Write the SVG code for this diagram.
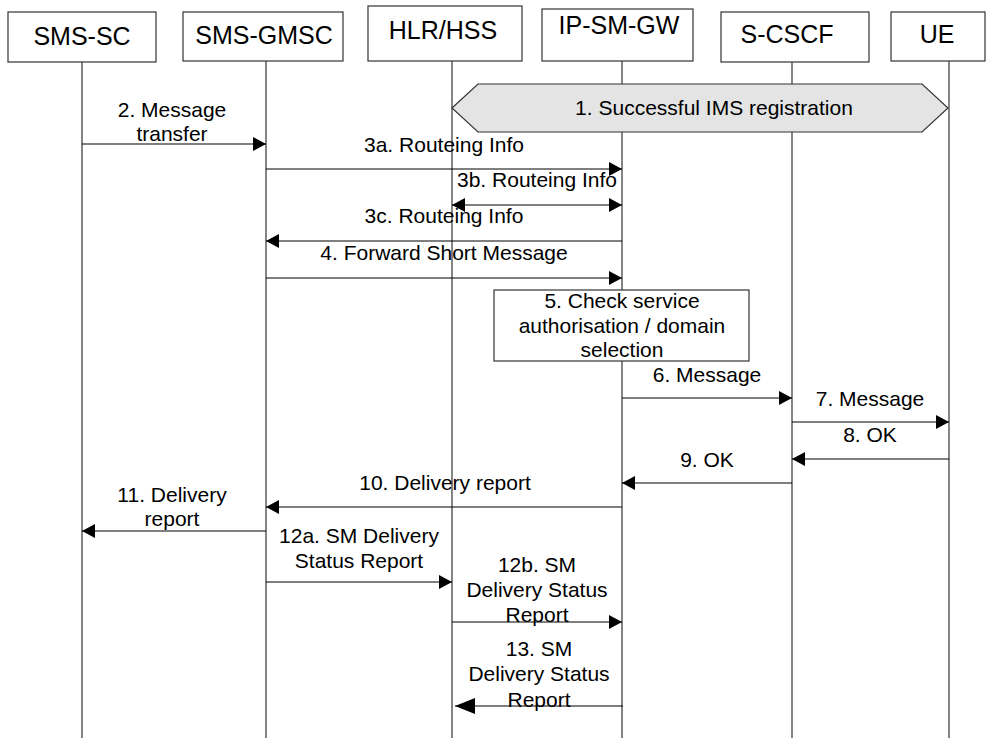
<svg xmlns="http://www.w3.org/2000/svg" width="994" height="738" viewBox="0 0 994 738">
<defs>
<marker id="ah" markerWidth="14" markerHeight="14" refX="13" refY="7" orient="auto-start-reverse" markerUnits="userSpaceOnUse">
<path d="M0,0 L13,7 L0,14 z" fill="#000"/>
</marker>
<marker id="ahb" markerWidth="22" markerHeight="16" refX="20" refY="8" orient="auto" markerUnits="userSpaceOnUse">
<path d="M0,0 L20,8 L0,16 z" fill="#000"/>
</marker>
<style>
.box{fill:#fff;stroke:#333;stroke-width:1.2}
.life{stroke:#333;stroke-width:1.2;fill:none}
.msg{stroke:#000;stroke-width:1.2;fill:none;marker-end:url(#ah)}
.hd{font-family:"Liberation Sans",Arial,sans-serif;font-size:25px;fill:#000;text-anchor:middle}
.lb{font-family:"Liberation Sans",Arial,sans-serif;font-size:21px;fill:#000;text-anchor:middle}
</style>
</defs>
<rect width="994" height="738" fill="#fff"/>
<g id="lifelines">
<line class="life" x1="82" y1="62" x2="82" y2="738"/>
<line class="life" x1="266" y1="61" x2="266" y2="738"/>
<line class="life" x1="452" y1="61" x2="452" y2="738"/>
<line class="life" x1="622" y1="61" x2="622" y2="738"/>
<line class="life" x1="792" y1="62" x2="792" y2="738"/>
<line class="life" x1="949" y1="61" x2="949" y2="738"/>
</g>
<g id="SMS-SC"><rect class="box" x="8" y="12" width="148" height="50"/><text class="hd" x="82" y="45">SMS-SC</text></g>
<g id="SMS-GMSC"><rect class="box" x="183" y="12" width="160" height="49"/><text class="hd" x="264" y="44">SMS-GMSC</text></g>
<g id="HLR-HSS"><rect class="box" x="368" y="6" width="154" height="55"/><text class="hd" x="443" y="39">HLR/HSS</text></g>
<g id="IP-SM-GW"><rect class="box" x="542" y="9" width="151" height="52"/><text class="hd" x="619" y="34">IP-SM-GW</text></g>
<g id="S-CSCF"><rect class="box" x="721" y="12" width="148" height="50"/><text class="hd" x="787" y="43">S-CSCF</text></g>
<g id="UE"><rect class="box" x="891" y="12" width="94" height="49"/><text class="hd" x="937" y="43">UE</text></g>
<g id="step1">
<polygon points="452,108 478,84 922,84 948,108 922,132 478,132" fill="#e4e4e4" stroke="#333" stroke-width="1.2"/>
<text class="lb" x="714" y="115">1. Successful IMS registration</text>
</g>
<g id="step5">
<rect class="box" x="494" y="290" width="255" height="71"/>
<text class="lb" x="622" y="308">5. Check service</text>
<text class="lb" x="622" y="333">authorisation / domain</text>
<text class="lb" x="622" y="357">selection</text>
</g>
<g id="connectors">
<line class="msg" x1="82" y1="144" x2="266" y2="144"/>
<line class="msg" x1="266" y1="169" x2="622" y2="169"/>
<line class="msg" x1="452" y1="205" x2="622" y2="205" style="marker-start:url(#ah)"/>
<line class="msg" x1="622" y1="241" x2="266" y2="241"/>
<line class="msg" x1="266" y1="278" x2="622" y2="278"/>
<line class="msg" x1="622" y1="398" x2="792" y2="398"/>
<line class="msg" x1="792" y1="422" x2="949" y2="422"/>
<line class="msg" x1="949" y1="459" x2="792" y2="459"/>
<line class="msg" x1="792" y1="483" x2="622" y2="483"/>
<line class="msg" x1="622" y1="507" x2="266" y2="507"/>
<line class="msg" x1="266" y1="531" x2="82" y2="531"/>
<line class="msg" x1="266" y1="582" x2="452" y2="582"/>
<line class="msg" x1="452" y1="622" x2="622" y2="622"/>
<line x1="623" y1="706" x2="455" y2="706" stroke="#000" stroke-width="1.2" marker-end="url(#ahb)"/>
</g>
<g id="labels">
<text class="lb" x="172" y="117">2. Message</text>
<text class="lb" x="172" y="141">transfer</text>
<text class="lb" x="444" y="152">3a. Routeing Info</text>
<text class="lb" x="537" y="187">3b. Routeing Info</text>
<text class="lb" x="444" y="223">3c. Routeing Info</text>
<text class="lb" x="444" y="260">4. Forward Short Message</text>
<text class="lb" x="707" y="382">6. Message</text>
<text class="lb" x="870" y="406">7. Message</text>
<text class="lb" x="870" y="442">8. OK</text>
<text class="lb" x="707" y="467">9. OK</text>
<text class="lb" x="445" y="490">10. Delivery report</text>
<text class="lb" x="172" y="502">11. Delivery</text>
<text class="lb" x="172" y="526">report</text>
<text class="lb" x="359" y="543">12a. SM Delivery</text>
<text class="lb" x="359" y="568">Status Report</text>
<text class="lb" x="537" y="572">12b. SM</text>
<text class="lb" x="537" y="597">Delivery Status</text>
<text class="lb" x="537" y="622">Report</text>
<text class="lb" x="539" y="656">13. SM</text>
<text class="lb" x="539" y="681">Delivery Status</text>
<text class="lb" x="539" y="707">Report</text>
</g>
</svg>
